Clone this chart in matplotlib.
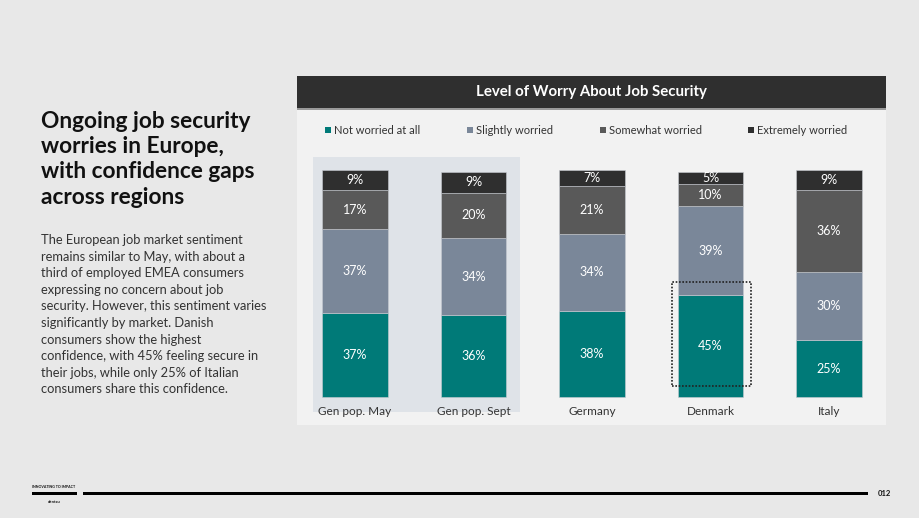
import matplotlib
matplotlib.use("Agg")
import matplotlib.pyplot as plt
from matplotlib.patches import Rectangle

W, H = 920, 518

categories = ["Gen pop. May", "Gen pop. Sept", "Germany", "Denmark", "Italy"]
series_names = ["Not worried at all", "Slightly worried", "Somewhat worried", "Extremely worried"]
not_worried = [37, 36, 38, 45, 25]
slightly = [37, 34, 34, 39, 30]
somewhat = [17, 20, 21, 10, 36]
extremely = [9, 9, 7, 5, 9]
colors = ["#007a78", "#7a8799", "#595959", "#2f2f2f"]

title = "Ongoing job security\nworries in Europe,\nwith confidence gaps\nacross regions"
body = ("The European job market sentiment\n"
        "remains similar to May, with about a\n"
        "third of employed EMEA consumers\n"
        "expressing no concern about job\n"
        "security. However, this sentiment varies\n"
        "significantly by market. Danish\n"
        "consumers show the highest\n"
        "confidence, with 45% feeling secure in\n"
        "their jobs, while only 25% of Italian\n"
        "consumers share this confidence.")

plt.rcParams["font.family"] = ["Lato", "DejaVu Sans"]


def fx(x):
    return x / W


def fy(y):
    return 1 - y / H


def frect(fig, x0, y0, x1, y1, **kw):
    fig.patches.append(Rectangle((fx(x0), fy(y1)), (x1 - x0) / W, (y1 - y0) / H,
                                 transform=fig.transFigure, **kw))


fig = plt.figure(figsize=(9.2, 5.18), dpi=100)
fig.patch.set_facecolor("#e8e8e8")

# chart panel + header
frect(fig, 297, 76, 886, 425, facecolor="#f2f2f2", edgecolor="none", zorder=0)
frect(fig, 297, 76, 886, 108, facecolor="#2f2f2f", edgecolor="none", zorder=1)
frect(fig, 297, 108, 886, 109.5, facecolor="#9a9a9a", edgecolor="none", zorder=1)
fig.text(fx(591), fy(92), "Level of Worry About Job Security", color="white",
         fontsize=10.8, fontweight="bold", ha="center", va="center")

# legend
leg_x = [328, 470, 603, 751]
for i, name in enumerate(series_names):
    frect(fig, leg_x[i] - 3, 127, leg_x[i] + 3, 133, facecolor=colors[i], edgecolor="none", zorder=2)
    fig.text(fx(leg_x[i] + 6), fy(130.5), name, color="#333333", fontsize=8,
             ha="left", va="center")

# bars axes
ax = fig.add_axes([fx(297), fy(425), (886 - 297) / W, (425 - 140) / H], zorder=5)
ax.set_facecolor("none")
ax.set_xlim(-0.489, 4.481)
ax.set_ylim(-12.33, 113.2)
ax.axis("off")

ax.add_patch(Rectangle((-0.354, -6.6), 1.746, 112.3, facecolor="#dfe3e8",
                       edgecolor="none", zorder=0))

xs = list(range(len(categories)))
bottoms = [0] * len(categories)
for vals, col in zip([not_worried, slightly, somewhat, extremely], colors):
    ax.bar(xs, vals, bottom=bottoms, width=0.55, color=col, edgecolor="#c8ccd2",
           linewidth=0.4, zorder=2)
    for x, v, b in zip(xs, vals, bottoms):
        ax.text(x, b + v / 2, f"{v}%", color="white", fontsize=9,
                ha="center", va="center", zorder=3)
    bottoms = [b + v for b, v in zip(bottoms, vals)]

for x, c in zip(xs, categories):
    ax.text(x, -6.3, c, color="#333333", fontsize=8.5, ha="center", va="center")

ax.add_patch(Rectangle((2.672, 4.7), 0.666, 46.0, facecolor="none", edgecolor="#222222",
                       linewidth=1.2, linestyle=(0, (1, 1)), zorder=4))

# left text
fig.text(fx(41), fy(111), title, color="#111111", fontsize=16.3, fontweight="bold",
         ha="left", va="top", linespacing=1.25)
fig.text(fx(41), fy(234), body, color="#333333", fontsize=9.3, ha="left", va="top",
         linespacing=1.46)

# footer
frect(fig, 32, 491.5, 77, 494.5, facecolor="black", edgecolor="none")
frect(fig, 83, 491.5, 868, 494.5, facecolor="black", edgecolor="none")
fig.text(fx(54), fy(487.5), "INNOVATING TO IMPACT", fontsize=2.6, fontweight="bold",
         ha="center", va="center", color="#111111")
fig.text(fx(54), fy(502), "dentsu", fontsize=3, fontweight="bold",
         ha="center", va="center", color="#111111")
fig.text(fx(884), fy(493), "012", fontsize=5.5, fontweight="bold",
         ha="center", va="center", color="#111111")

fig.savefig("out.png", dpi=100, facecolor=fig.get_facecolor())
